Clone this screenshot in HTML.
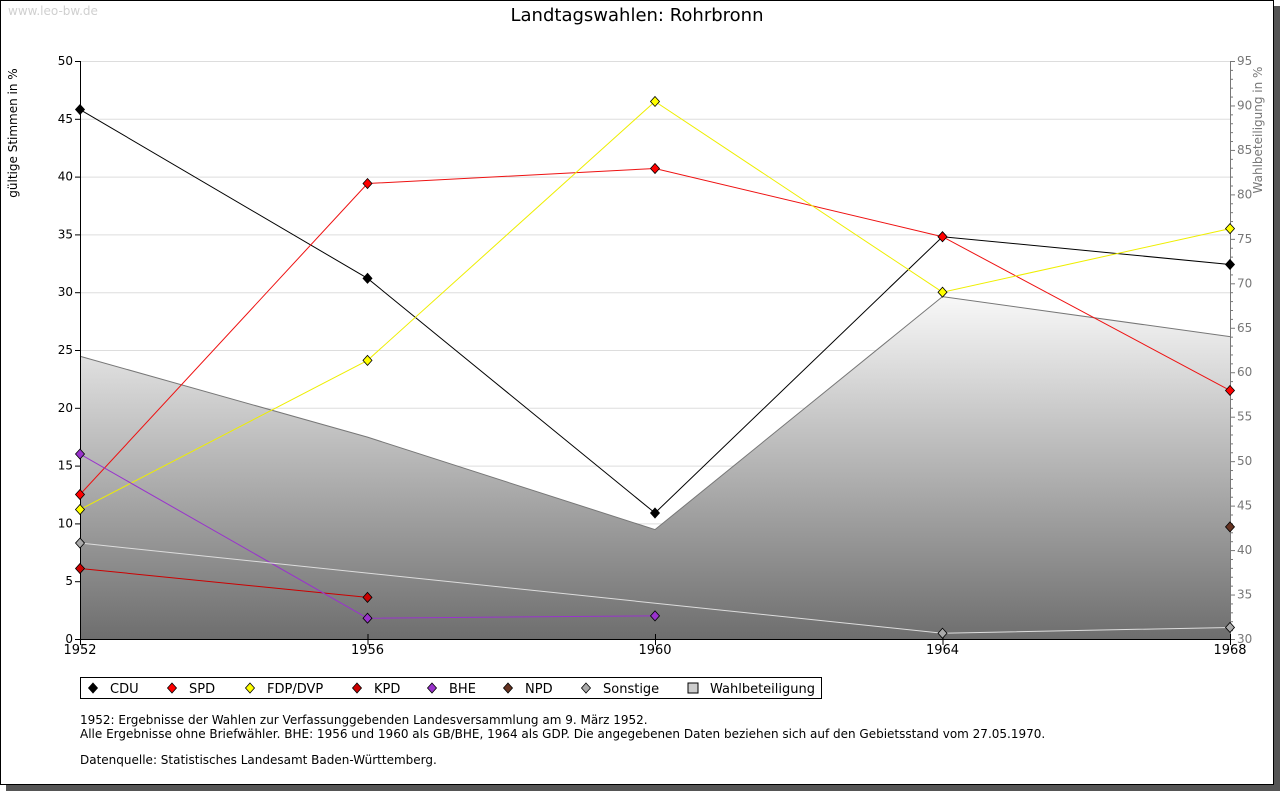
<!DOCTYPE html>
<html><head><meta charset="utf-8"><style>
body{margin:0;background:#fff;}
svg{display:block;font-family:"DejaVu Sans","Liberation Sans",sans-serif;}
</style></head><body>
<svg id="c" width="1280" height="791">
<defs>
<linearGradient id="g" x1="0" y1="297" x2="0" y2="639" gradientUnits="userSpaceOnUse">
<stop offset="0" stop-color="#f8f8f8"/><stop offset="1" stop-color="#6e6e6e"/>
</linearGradient>
</defs>
<rect x="6" y="6" width="1274" height="785" fill="#555"/>
<rect x="0.5" y="0.5" width="1273" height="784" fill="#fff" stroke="#000"/>
<text x="8" y="15" font-size="12" fill="#d0d0d0">www.leo-bw.de</text>
<text x="637" y="21" font-size="18" text-anchor="middle" fill="#000">Landtagswahlen: Rohrbronn</text>
<text transform="translate(17,133) rotate(-90)" font-size="12" text-anchor="middle">gültige Stimmen in %</text>
<text transform="translate(1262,130) rotate(-90)" font-size="12" text-anchor="middle" fill="#777">Wahlbeteiligung in %</text>
<g id="grid"></g><g id="area"></g><g id="axes"></g><g id="lines"></g>
<g>
<rect x="80.5" y="677.5" width="741" height="21" fill="#fff" stroke="#000"/>
<g id="leg"></g>
</g>
<text font-size="12" fill="#000">
<tspan x="80" y="724">1952: Ergebnisse der Wahlen zur Verfassunggebenden Landesversammlung am 9. März 1952.</tspan>
<tspan x="80" y="738">Alle Ergebnisse ohne Briefwähler. BHE: 1956 und 1960 als GB/BHE, 1964 als GDP. Die angegebenen Daten beziehen sich auf den Gebietsstand vom 27.05.1970.</tspan>
<tspan x="80" y="764">Datenquelle: Statistisches Landesamt Baden-Württemberg.</tspan>
</text>
</svg>
<script>
const years=[1952,1956,1960,1964,1968];
const cdu=[45.8,31.2,10.9,34.8,32.4];
const spd=[12.5,39.4,40.7,34.8,21.5];
const fdp=[11.2,24.1,46.5,30.0,35.5];
const kpd=[6.1,3.6,null,null,null];
const bhe=[16.0,1.8,2.0,null,null];
const npd=[null,null,null,null,9.7];
const sonst=[8.3,null,null,0.5,1.0];
const turnout=[61.8,52.7,42.3,68.5,64.0];
const leftTicks=[0,5,10,15,20,25,30,35,40,45,50];
const rightTicks=[30,35,40,45,50,55,60,65,70,75,80,85,90,95];
const NS='http://www.w3.org/2000/svg';
const X=y=>80+(y-1952)/16*1150;
const Y=v=>639-v/50*578;
const Y2=v=>639-(v-30)/65*578;
function el(t,a,p){const e=document.createElementNS(NS,t);for(const k in a)e.setAttribute(k,a[k]);document.getElementById(p).appendChild(e);return e;}
leftTicks.forEach(v=>{
 if(v>0){const l=el('line',{x1:80,x2:1230,y1:Y(v)+.5,y2:Y(v)+.5,stroke:'#ddd'},'grid');
 
 }
 el('line',{x1:75,x2:80,y1:Y(v)+.5,y2:Y(v)+.5,stroke:'#000'},'axes');
 const t=el('text',{x:73,y:Y(v)+4,'font-size':12,'text-anchor':'end'},'axes');t.textContent=v;
 
 
});
for(let v=30;v<=95;v++){el('line',{x1:1230,x2:v%5?1233:1235,y1:Y2(v)+.5,y2:Y2(v)+.5,stroke:'#777'},'axes');}
rightTicks.forEach(v=>{const t=el('text',{x:1237,y:Y2(v)+4,'font-size':12,fill:'#777'},'axes');t.textContent=v;
 
 });
let d='M'+X(years[0])+' 639';years.forEach((y,i)=>d+=' L'+X(y)+' '+Y2(turnout[i]));d+=' L'+X(1968)+' 639Z';
const ar=el('path',{d:d,fill:'url(#g)',stroke:'none'},'area');


let d2='';years.forEach((y,i)=>d2+=(i?' L':'M')+X(y)+' '+Y2(turnout[i]));
el('path',{d:d2,fill:'none',stroke:'#777'},'area');
el('line',{x1:80.5,x2:80.5,y1:61,y2:639,stroke:'#000'},'axes');
el('line',{x1:1230.5,x2:1230.5,y1:61,y2:639,stroke:'#777'},'axes');
el('line',{x1:80,x2:1230,y1:639.5,y2:639.5,stroke:'#000'},'axes');
years.forEach(y=>{el('line',{x1:X(y)+.5,x2:X(y)+.5,y1:634,y2:645,stroke:'#000'},'axes');
 const t=el('text',{x:X(y),y:654,'font-size':13,'text-anchor':'middle'},'axes');t.textContent=y;
 
 });
const series=[['cdu',cdu,'#000','#000'],['spd',spd,'#ff0000','#ee1111'],['fdp',fdp,'#ffff00','#eeee00'],['kpd',kpd,'#cc0000','#cc0000'],['bhe',bhe,'#9933cc','#9933cc'],['npd',npd,'#663322','#663322'],['sonstige',sonst,'#aaaaaa','#dddddd']];
series.forEach(([n,vals,fc,lc])=>{
 const pts=[];years.forEach((y,i)=>{if(vals[i]!==null)pts.push([X(y),Y(vals[i])]);});
 if(pts.length>1){const p=el('polyline',{points:pts.map(p=>p.join(',')).join(' '),fill:'none',stroke:lc},'lines');
 
 }
 pts.forEach(p=>{const m=el('path',{d:`M${p[0]} ${p[1]-5} L${p[0]+4.5} ${p[1]} L${p[0]} ${p[1]+5} L${p[0]-4.5} ${p[1]}Z`,fill:fc,stroke:'#000','stroke-width':0.8},'lines');
 
 });
});
const legItems=[['CDU','#000',93],['SPD','#ff0000',172],['FDP/DVP','#ffff00',250],['KPD','#cc0000',357],['BHE','#9933cc',432],['NPD','#663322',508],['Sonstige','#aaaaaa',586],['Wahlbeteiligung','#ccc',693]];
legItems.forEach(([t,c,x],i)=>{
 let m;
 if(i===7)m=el('rect',{x:x-5,y:683,width:10,height:10,fill:c,stroke:'#000'},'leg');
 else m=el('path',{d:`M${x} 683 L${x+4.5} 688 L${x} 693 L${x-4.5} 688Z`,fill:c,stroke:'#000','stroke-width':0.8},'leg');
 
 
 const tx=el('text',{x:x+17,y:693,'font-size':13},'leg');tx.textContent=t;
 
 
});
</script>
</body></html>
